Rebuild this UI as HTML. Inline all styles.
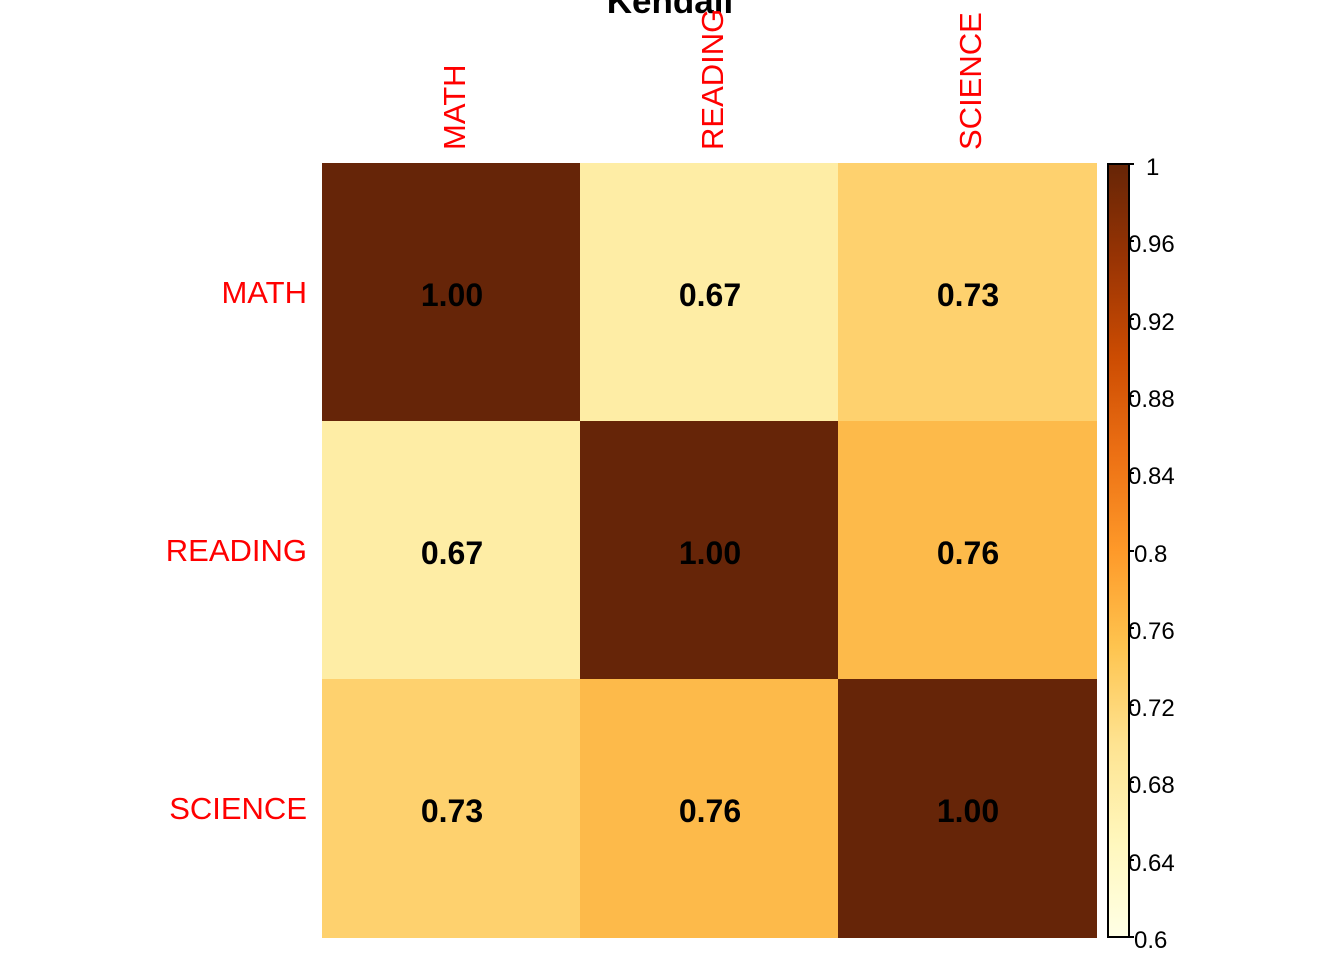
<!DOCTYPE html>
<html><head><style>body{margin:0;background:#fff}</style></head><body>
<svg width="1344" height="960" xmlns="http://www.w3.org/2000/svg" font-family="Liberation Sans, Arial, sans-serif">
<defs><linearGradient id="g" x1="0" y1="1" x2="0" y2="0">
<stop offset="0" stop-color="#FFFFE5"/><stop offset="0.125" stop-color="#FFF7BC"/><stop offset="0.25" stop-color="#FEE391"/><stop offset="0.375" stop-color="#FEC44F"/><stop offset="0.5" stop-color="#FE9929"/><stop offset="0.625" stop-color="#EC7014"/><stop offset="0.75" stop-color="#CC4C02"/><stop offset="0.875" stop-color="#993404"/><stop offset="1" stop-color="#662506"/></linearGradient></defs>
<text x="670" y="13" font-size="35" font-weight="bold" text-anchor="middle">Kendall</text>
<rect x="322" y="163" width="258" height="258" fill="#662508"/>
<rect x="580" y="163" width="258" height="258" fill="#FEEDA5"/>
<rect x="838" y="163" width="259" height="258" fill="#FED16E"/>
<rect x="322" y="421" width="258" height="258" fill="#FEEDA5"/>
<rect x="580" y="421" width="258" height="258" fill="#662508"/>
<rect x="838" y="421" width="259" height="258" fill="#FDBA4A"/>
<rect x="322" y="679" width="258" height="259" fill="#FED16E"/>
<rect x="580" y="679" width="258" height="259" fill="#FDBA4A"/>
<rect x="838" y="679" width="259" height="259" fill="#662508"/>
<g font-size="32" font-weight="bold" text-anchor="middle">
<text x="452" y="306">1.00</text><text x="710" y="306">0.67</text><text x="968" y="306">0.73</text>
<text x="452" y="564">0.67</text><text x="710" y="564">1.00</text><text x="968" y="564">0.76</text>
<text x="452" y="822">0.73</text><text x="710" y="822">0.76</text><text x="968" y="822">1.00</text>
</g>
<g font-size="31" fill="#FF0000">
<text x="307" y="303" text-anchor="end">MATH</text><text x="307" y="561" text-anchor="end">READING</text><text x="307" y="819" text-anchor="end">SCIENCE</text>
<text transform="translate(465,150) rotate(-90)">MATH</text>
<text transform="translate(723,150) rotate(-90)">READING</text>
<text transform="translate(981,150) rotate(-90)">SCIENCE</text>
</g>
<rect x="1108" y="164" width="21" height="773" fill="url(#g)" stroke="#000" stroke-width="2"/>
<g stroke="#000" stroke-width="2">
<line x1="1129" y1="164" x2="1134" y2="164"/><line x1="1129" y1="241" x2="1134" y2="241"/><line x1="1129" y1="319" x2="1134" y2="319"/><line x1="1129" y1="396" x2="1134" y2="396"/><line x1="1129" y1="473" x2="1134" y2="473"/><line x1="1129" y1="551" x2="1134" y2="551"/><line x1="1129" y1="628" x2="1134" y2="628"/><line x1="1129" y1="705" x2="1134" y2="705"/><line x1="1129" y1="782" x2="1134" y2="782"/><line x1="1129" y1="860" x2="1134" y2="860"/><line x1="1129" y1="937" x2="1134" y2="937"/>
</g>
<g font-size="24">
<text x="1146" y="175">1</text><text x="1128" y="252">0.96</text><text x="1128" y="330">0.92</text><text x="1128" y="407">0.88</text><text x="1128" y="484">0.84</text><text x="1134" y="562">0.8</text><text x="1128" y="639">0.76</text><text x="1128" y="716">0.72</text><text x="1128" y="793">0.68</text><text x="1128" y="871">0.64</text><text x="1134" y="948">0.6</text>
</g>
</svg>
</body></html>
